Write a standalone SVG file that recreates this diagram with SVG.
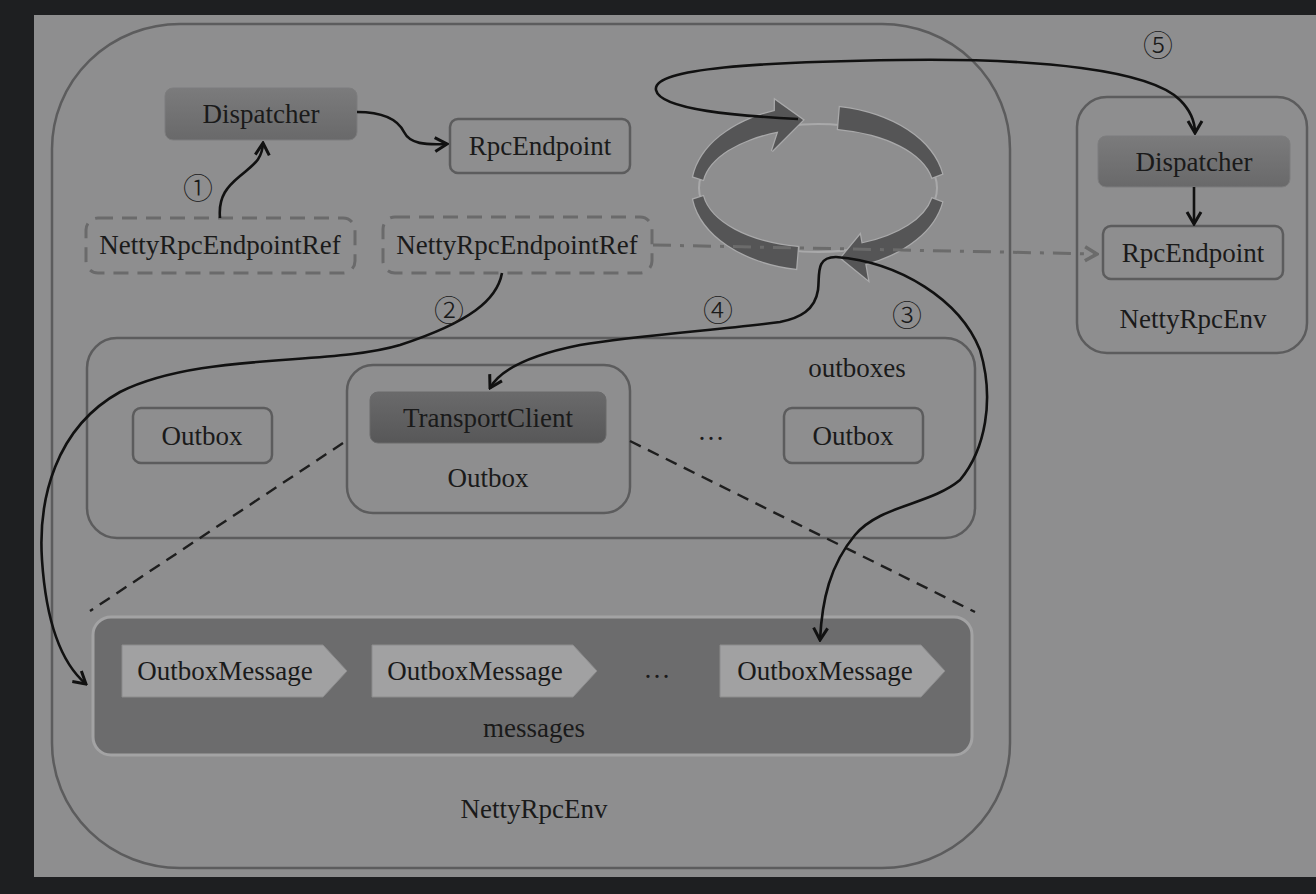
<svg xmlns="http://www.w3.org/2000/svg" width="1316" height="894" viewBox="0 0 1316 894">
<style>
text{font-family:"Liberation Serif","Times New Roman",serif;font-size:27px;fill:#1a1a1a;text-anchor:middle}
.num{font-family:"Noto Sans CJK SC","DejaVu Sans",sans-serif;font-size:30px;font-weight:300}
.box{fill:none;stroke:#5c5c5d;stroke-width:2.5}
.dbox{fill:none;stroke:#6a6a6b;stroke-width:3;stroke-dasharray:15 9}
.dark{fill:url(#gd);stroke:#7d7d7e;stroke-width:1}
.darker{fill:url(#gt);stroke:#6a6a6b;stroke-width:1}
.msg{fill:#a1a1a2;stroke:#8c8c8d;stroke-width:1}
.conn{fill:none;stroke:#111;stroke-width:2.6}
.ring{fill:#555556;stroke:#a9a9aa;stroke-width:2.5;paint-order:stroke}
</style>
<defs>
<linearGradient id="gd" x1="0" y1="0" x2="0" y2="1"><stop offset="0" stop-color="#7b7b7c"/><stop offset="1" stop-color="#69696a"/></linearGradient>
<linearGradient id="gt" x1="0" y1="0" x2="0" y2="1"><stop offset="0" stop-color="#6a6a6b"/><stop offset="1" stop-color="#575758"/></linearGradient>
<marker id="ah" viewBox="-14 -9 16 18" markerWidth="16" markerHeight="18" refX="0" refY="0" orient="auto" markerUnits="userSpaceOnUse"><path d="M-12,-7 L0,0 L-12,7" fill="none" stroke="#111" stroke-width="3"/></marker>
<marker id="ahg" viewBox="-14 -9 16 18" markerWidth="16" markerHeight="18" refX="0" refY="0" orient="auto" markerUnits="userSpaceOnUse"><path d="M-12,-7 L0,0 L-12,7" fill="none" stroke="#6b6b6b" stroke-width="3.5"/></marker>
</defs>
<rect x="0" y="0" width="1316" height="894" fill="#1e1f21"/>
<rect x="34" y="15" width="1282" height="862" fill="#8e8e8f"/>

<g id="env-main">
<rect x="52" y="24" width="958" height="844" rx="128" ry="125" class="box"/>
<text x="534" y="818">NettyRpcEnv</text>
</g>

<g id="dispatcher">
<rect x="165" y="88" width="192" height="52" rx="8" class="dark"/>
<text x="261" y="123">Dispatcher</text>
</g>
<g id="rpcendpoint">
<rect x="450" y="119" width="180" height="54" rx="8" class="box"/>
<text x="540" y="155">RpcEndpoint</text>
</g>
<g id="ref1">
<rect x="86" y="218" width="269" height="55" rx="12" class="dbox"/>
<text x="220" y="254">NettyRpcEndpointRef</text>
</g>
<g id="ref2">
<rect x="383" y="217" width="269" height="56" rx="12" class="dbox"/>
<text x="517" y="254">NettyRpcEndpointRef</text>
</g>

<g id="cycle">
<ellipse cx="818" cy="188" rx="119" ry="64" fill="none" stroke="#a9a9aa" stroke-width="2"/>
<path class="ring" d="M693.2,176.6 A126,82 0 0 1 774.9,110.9 L775,100 L803,120 L772,151 L778.3,131.6 A116,60 0 0 0 703.1,179.7 Z"/>
<path class="ring" d="M839.9,107.2 A126,82 0 0 1 942.1,173.8 L932.2,177.6 A116,60 0 0 0 838.1,128.9 Z"/>
<path class="ring" d="M942.1,202.2 A126,82 0 0 1 865.2,264 L868,280 L841,258 L860,235 L861.5,243.6 A116,60 0 0 0 932.2,198.4 Z"/>
<path class="ring" d="M796.1,268.8 A126,82 0 0 1 693.2,199.4 L703.1,196.3 A116,60 0 0 0 797.9,247.1 Z"/>
</g>

<g id="outboxes">
<rect x="87" y="338" width="888" height="200" rx="30" class="box"/>
<text x="857" y="377">outboxes</text>
<text x="711" y="440">…</text>
</g>
<g id="outbox-left">
<rect x="133" y="408" width="139" height="55" rx="8" class="box"/>
<text x="202" y="445">Outbox</text>
</g>
<g id="outbox-mid">
<rect x="347" y="365" width="283" height="148" rx="26" class="box"/>
<text x="488" y="487">Outbox</text>
</g>
<g id="transportclient">
<rect x="370" y="392" width="236" height="51" rx="8" class="darker"/>
<text x="488" y="427">TransportClient</text>
</g>
<g id="outbox-right">
<rect x="784" y="408" width="139" height="55" rx="8" class="box"/>
<text x="853" y="445">Outbox</text>
</g>

<g id="zoom-lines" fill="none" stroke="#1e1e1e" stroke-width="2.4" stroke-dasharray="12 8">
<line x1="343" y1="443" x2="90" y2="611"/>
<line x1="630" y1="441" x2="975" y2="612"/>
</g>

<g id="messages">
<rect x="93" y="617" width="879" height="138" rx="18" fill="#6c6c6d" stroke="#a3a3a4" stroke-width="3"/>
<text x="534" y="737">messages</text>
<text x="657" y="678">…</text>
</g>
<g id="msg1">
<path class="msg" d="M122,645 L323,645 L347,671 L323,697 L122,697 Z"/>
<text x="225" y="680">OutboxMessage</text>
</g>
<g id="msg2">
<path class="msg" d="M372,645 L573,645 L597,671 L573,697 L372,697 Z"/>
<text x="475" y="680">OutboxMessage</text>
</g>
<g id="msg3">
<path class="msg" d="M720,645 L921,645 L945,671 L921,697 L720,697 Z"/>
<text x="825" y="680">OutboxMessage</text>
</g>

<g id="env-right">
<rect x="1077" y="97" width="230" height="256" rx="30" class="box"/>
<text x="1193" y="328">NettyRpcEnv</text>
</g>
<g id="dispatcher-r">
<rect x="1098" y="136" width="192" height="51" rx="8" class="dark"/>
<text x="1194" y="171">Dispatcher</text>
</g>
<g id="rpcendpoint-r">
<rect x="1103" y="226" width="180" height="53" rx="8" class="box"/>
<text x="1193" y="262">RpcEndpoint</text>
</g>

<g id="connectors">
<path class="conn" d="M220,218 C218,196 228,186 240,176 C254,164 262,160 263,143" marker-end="url(#ah)"/>
<path class="conn" d="M357,112 C385,112 398,120 404,132 C410,144 425,145 447,144" marker-end="url(#ah)"/>
<path d="M653,245 L1097,254" fill="none" stroke="#6b6b6b" stroke-width="3" stroke-dasharray="18 9 4 9" marker-end="url(#ahg)"/>
<path class="conn" d="M502,273 C497,300 470,322 400,345 C330,366 200,352 120,392 C55,428 38,500 42,560 C46,620 60,662 86,684" marker-end="url(#ah)"/>
<path class="conn" d="M836,257 C900,262 960,300 980,350 C995,400 985,450 960,480 C930,505 880,505 855,535 C830,565 822,600 820,640" marker-end="url(#ah)"/>
<path class="conn" d="M836,257 C815,257 820,275 818,290 C815,310 800,318 780,322 C720,330 640,335 580,345 C530,355 500,370 490,388" marker-end="url(#ah)"/>
<path class="conn" d="M798,119 C740,116 660,110 656,90 C652,68 760,62 900,60 C1040,58 1150,70 1180,100 C1190,110 1195,120 1195,133" marker-end="url(#ah)"/>
<path d="M1194,187 L1194,224" class="conn" marker-end="url(#ah)"/>
</g>

<g id="labels">
<text class="num" x="198" y="199">①</text>
<text class="num" x="449" y="321">②</text>
<text class="num" x="907" y="326">③</text>
<text class="num" x="718" y="321">④</text>
<text class="num" x="1158" y="56">⑤</text>
</g>
</svg>
